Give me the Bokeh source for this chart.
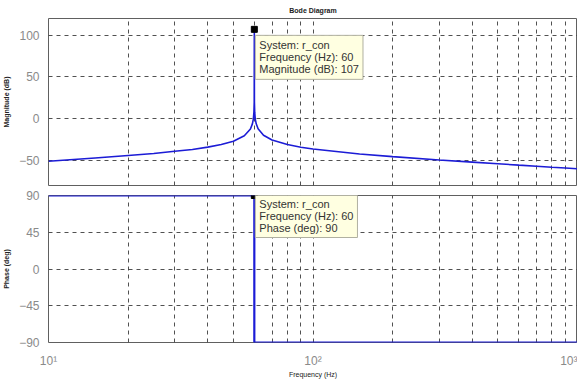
from bokeh.plotting import figure
from bokeh.layouts import column
from bokeh.models import Range1d, FixedTicker, Label
from bokeh.embed import file_html
from bokeh.resources import INLINE

# ---- data ----
freq_hz = [10, 15, 20, 25, 30, 35, 40, 45, 50, 55, 58, 59, 59.5, 59.8, 59.95, 60,
           60.05, 60.2, 60.5, 61, 62, 65, 70, 80, 90, 100, 150, 200, 300, 400,
           500, 600, 700, 800, 900, 1000]
mag_db = [-51, -47, -44, -41.7, -39, -36.8, -34, -31, -27, -20.5, -12.4, -6.2, -0.5, 7.8, 20, 107,
          20, 7.8, -0.5, -6.1, -12.1, -19.8, -25.5, -31, -34.1, -36.3, -42.2, -45.4, -49.4, -52,
          -54, -55.6, -56.9, -58.1, -59.1, -60]
phase_freq = [10, 60, 60, 1000]
phase_deg = [90, 90, -90, -90]

mag_ticks = [-50, 0, 50, 100]
phase_ticks = [-90, -45, 0, 45, 90]
x_major = [10, 100, 1000]
x_minor = [20, 30, 40, 50, 60, 70, 80, 90, 200, 300, 400, 500, 600, 700, 800, 900]
x_labels = {10: "10¹", 100: "10²", 1000: "10³"}

cursor_f = 60
cursor_mag = 107
cursor_phase = 90

FONT = "Liberation Sans"
LINE = "#1c1cd6"
GRID = "#333333"
TICKC = "#8a8a8a"

xr = Range1d(10, 1000)


def style(p, yticks):
    p.outline_line_color = "#606060"
    p.outline_line_width = 1
    p.xgrid.ticker = FixedTicker(ticks=x_major, minor_ticks=x_minor)
    p.ygrid.ticker = FixedTicker(ticks=yticks)
    for g in (p.xgrid, p.ygrid):
        g.grid_line_color = GRID
        g.grid_line_dash = "4 4"
        g.grid_line_width = 1
        g.grid_line_alpha = 0.85
    p.xgrid.minor_grid_line_color = GRID
    p.xgrid.minor_grid_line_dash = "4 4"
    p.xgrid.minor_grid_line_alpha = 0.85
    p.yaxis.ticker = FixedTicker(ticks=yticks)
    p.yaxis.major_label_text_font = FONT
    p.yaxis.major_label_text_font_size = "12px"
    p.yaxis.major_label_text_color = TICKC
    p.yaxis.major_tick_line_color = None
    p.yaxis.minor_tick_line_color = None
    p.yaxis.axis_line_color = None
    p.yaxis.major_label_standoff = 3
    p.yaxis.axis_label_text_font = FONT
    p.yaxis.axis_label_text_font_size = "7px"
    p.yaxis.axis_label_text_font_style = "bold"
    p.yaxis.axis_label_text_color = "#222222"
    p.yaxis.axis_label_standoff = 6
    p.background_fill_color = "white"
    p.border_fill_color = "white"


# ---- magnitude ----
p1 = figure(width=577, height=190, x_axis_type="log", x_range=xr,
            y_range=Range1d(-80, 120), output_backend="svg", toolbar_location=None,
            min_border_left=48, min_border_right=0, min_border_top=17, min_border_bottom=5)
p1.title.text = "Bode Diagram"
p1.title.align = "center"
p1.title.text_font = FONT
p1.title.text_font_size = "7px"
p1.title.text_color = "#222222"
p1.title.standoff = 9
p1.xaxis.visible = False
p1.xaxis.ticker = FixedTicker(ticks=x_major, minor_ticks=x_minor)
style(p1, mag_ticks)
p1.yaxis.axis_label = "Magnitude (dB)"
p1.line(freq_hz, mag_db, line_color=LINE, line_width=1.6)
p1.scatter([cursor_f], [cursor_mag], marker="square", size=6, color="black")
p1.add_layout(Label(x=cursor_f, y=cursor_mag, x_offset=1, y_offset=-6, anchor="top_left",
                    text="System: r_con\nFrequency (Hz): 60\nMagnitude (dB): 107",
                    text_font=FONT, text_font_size="11px", text_color="#333333",
                    text_line_height=1.0,
                    background_fill_color="#ffffe1", border_line_color="#b0b0a0",
                    padding=4))

# ---- phase ----
p2 = figure(width=577, height=193, x_axis_type="log", x_range=xr,
            y_range=Range1d(-90, 90), output_backend="svg", toolbar_location=None,
            min_border_left=48, min_border_right=0, min_border_top=5, min_border_bottom=41)
style(p2, phase_ticks)
p2.yaxis.axis_label = "Phase (deg)"
p2.xaxis.ticker = FixedTicker(ticks=x_major, minor_ticks=x_minor)
p2.xaxis.major_label_overrides = x_labels
p2.xaxis.major_label_text_font = FONT
p2.xaxis.major_label_text_font_size = "12px"
p2.xaxis.major_label_text_color = TICKC
p2.xaxis.major_tick_line_color = None
p2.xaxis.minor_tick_line_color = None
p2.xaxis.axis_line_color = None
p2.xaxis.major_label_standoff = 5
p2.xaxis.axis_label = "Frequency (Hz)"
p2.xaxis.axis_label_text_font = FONT
p2.xaxis.axis_label_text_font_size = "7px"
p2.xaxis.axis_label_text_font_style = "normal"
p2.xaxis.axis_label_text_color = "#222222"
p2.xaxis.axis_label_standoff = 0
p2.line(phase_freq, phase_deg, line_color=LINE, line_width=2.2)
p2.scatter([cursor_f], [cursor_phase], marker="square", size=6, color="black")
p2.add_layout(Label(x=cursor_f, y=cursor_phase, x_offset=1, y_offset=2, anchor="top_left",
                    text="System: r_con\nFrequency (Hz): 60\nPhase (deg): 90",
                    text_font=FONT, text_font_size="11px", text_color="#333333",
                    text_line_height=1.0,
                    background_fill_color="#ffffe1", border_line_color="#b0b0a0",
                    padding=4))

layout = column(p1, p2, spacing=0)
open("out.html", "w").write(file_html(layout, INLINE))
